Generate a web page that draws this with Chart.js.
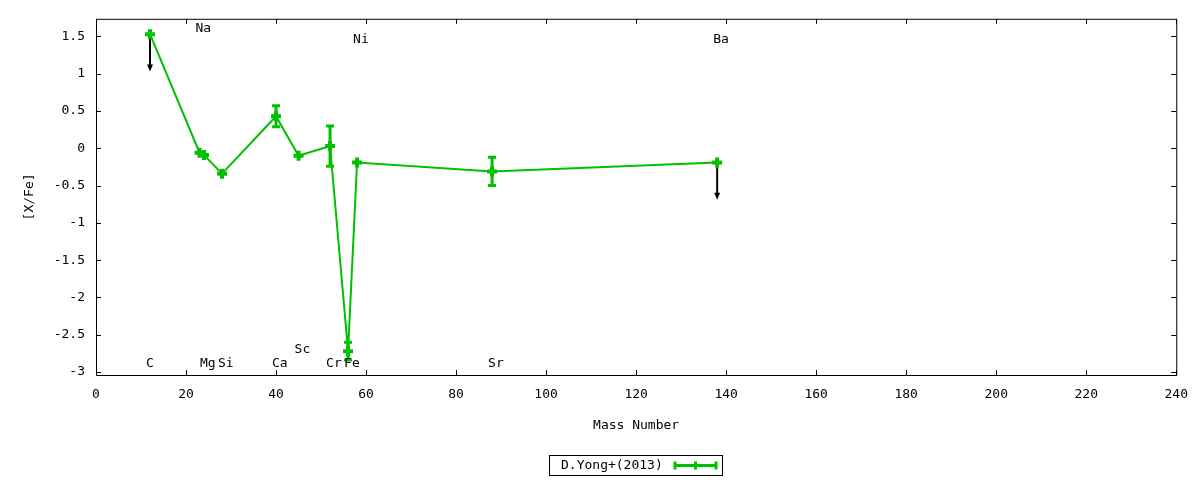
<!DOCTYPE html>
<html>
<head>
<meta charset="utf-8">
<script src="https://cdn.jsdelivr.net/npm/chart.js@4"></script>
<style>
  html, body { margin: 0; padding: 0; background: #fff; }
  #wrap { width: 1200px; height: 480px; }
</style>
</head>
<body>
<div id="wrap"><canvas id="abund" width="1200" height="480"></canvas></div>
<script>
// abundance pattern, D.Yong+(2013)
const elements = ["C", "Na", "Mg", "Si", "Ca", "Sc", "Cr", "Fe", "Ni", "Sr", "Ba"];
const massNumber = [12, 23, 24, 28, 40, 45, 52, 56, 58, 88, 138];
const xFe = [1.53, -0.06, -0.09, -0.34, 0.43, -0.10, 0.03, -2.72, -0.19, -0.31, -0.19];
const xFeErr = [0, 0, 0, 0, 0.14, 0, 0.27, 0.12, 0, 0.19, 0];
const upperLimit = [true, false, false, false, false, false, false, false, false, false, true];
// y level (in [X/Fe]) where each element name is written
const labelLevel = [-2.89, 1.6, -2.89, -2.89, -2.89, -2.7, -2.89, -2.89, 1.46, -2.89, 1.46];
const xTicks = [0, 20, 40, 60, 80, 100, 120, 140, 160, 180, 200, 220, 240];
const yTicks = [-3, -2.5, -2, -1.5, -1, -0.5, 0, 0.5, 1, 1.5];
const seriesName = "D.Yong+(2013)";

const green = "#00c000";
const font = "DejaVu Sans Mono";

const points = massNumber.map((m, i) => ({ x: m, y: xFe[i] }));

const extras = {
  id: "extras",
  afterDatasetsDraw(chart) {
    const ctx = chart.ctx;
    const xs = chart.scales.x, ys = chart.scales.y;
    const a = chart.chartArea;
    ctx.save();

    // error bars
    ctx.strokeStyle = green;
    ctx.lineWidth = 3;
    massNumber.forEach((m, i) => {
      if (!xFeErr[i]) return;
      const px = xs.getPixelForValue(m);
      const top = ys.getPixelForValue(xFe[i] + xFeErr[i]);
      const bot = ys.getPixelForValue(xFe[i] - xFeErr[i]);
      ctx.beginPath();
      ctx.moveTo(px, top); ctx.lineTo(px, bot);
      ctx.moveTo(px - 4, top); ctx.lineTo(px + 4, top);
      ctx.moveTo(px - 4, bot); ctx.lineTo(px + 4, bot);
      ctx.stroke();
    });

    // upper limits
    ctx.strokeStyle = "#000";
    ctx.fillStyle = "#000";
    ctx.lineWidth = 2;
    massNumber.forEach((m, i) => {
      if (!upperLimit[i]) return;
      const px = xs.getPixelForValue(m);
      const y0 = ys.getPixelForValue(xFe[i]) + 5;
      const y1 = ys.getPixelForValue(xFe[i] - 0.5);
      ctx.beginPath();
      ctx.moveTo(px, y0); ctx.lineTo(px, y1 - 4);
      ctx.stroke();
      ctx.beginPath();
      ctx.moveTo(px - 3, y1 - 7); ctx.lineTo(px + 3, y1 - 7); ctx.lineTo(px, y1);
      ctx.closePath();
      ctx.fill();
    });

    // element names
    ctx.fillStyle = "#000";
    ctx.font = "13px '" + font + "'";
    ctx.textAlign = "left";
    ctx.textBaseline = "middle";
    elements.forEach((el, i) => {
      ctx.fillText(el, xs.getPixelForValue(massNumber[i]) - 4, ys.getPixelForValue(labelLevel[i]));
    });

    // frame and inward ticks (mirrored)
    ctx.strokeStyle = "#000";
    ctx.lineWidth = 1;
    ctx.beginPath();
    ctx.rect(a.left + 0.5, a.top + 0.5, a.right - a.left, a.bottom - a.top);
    xTicks.forEach(v => {
      const px = Math.round(xs.getPixelForValue(v)) + 0.5;
      ctx.moveTo(px, a.bottom); ctx.lineTo(px, a.bottom - 5);
      ctx.moveTo(px, a.top); ctx.lineTo(px, a.top + 5);
    });
    yTicks.forEach(v => {
      const py = Math.round(ys.getPixelForValue(v)) + 0.5;
      ctx.moveTo(a.left, py); ctx.lineTo(a.left + 5, py);
      ctx.moveTo(a.right, py); ctx.lineTo(a.right - 5, py);
    });
    ctx.stroke();

    // key box
    const kx = 549.5, ky = 455.5, kw = 173, kh = 20;
    ctx.strokeRect(kx, ky, kw, kh);
    ctx.fillText(seriesName, 561, ky + kh / 2);
    const ly = ky + kh / 2, l0 = 675, l1 = 716;
    ctx.strokeStyle = green;
    ctx.lineWidth = 3;
    ctx.beginPath();
    ctx.moveTo(l0, ly); ctx.lineTo(l1, ly);
    ctx.moveTo(l0, ly - 4); ctx.lineTo(l0, ly + 4);
    ctx.moveTo(l1, ly - 4); ctx.lineTo(l1, ly + 4);
    ctx.moveTo((l0 + l1) / 2, ly - 4); ctx.lineTo((l0 + l1) / 2, ly + 4);
    ctx.stroke();

    ctx.restore();
  }
};

new Chart(document.getElementById("abund"), {
  type: "scatter",
  data: {
    datasets: [{
      label: seriesName,
      data: points,
      showLine: true,
      borderColor: green,
      backgroundColor: green,
      borderWidth: 2,
      tension: 0,
      pointStyle: "cross",
      pointRadius: 5,
      pointBorderWidth: 4,
      pointHoverRadius: 5
    }]
  },
  options: {
    responsive: false,
    animation: false,
    devicePixelRatio: 1,
    layout: { padding: { top: 17, right: 23, bottom: 45, left: 0 } },
    plugins: { legend: { display: false }, tooltip: { enabled: false } },
    scales: {
      x: {
        type: "linear",
        min: 0, max: 240,
        grid: { display: false, drawTicks: false },
        border: { display: false },
        afterBuildTicks: s => { s.ticks = xTicks.map(v => ({ value: v })); },
        afterFit: s => { s.height = 60; },
        ticks: { autoSkip: false, maxRotation: 0, padding: 12, color: "#000", font: { family: font, size: 13 }, callback: v => String(v) },
        title: { display: true, text: "Mass Number", color: "#000", font: { family: font, size: 13 }, padding: { top: 0, bottom: 2 } }
      },
      y: {
        type: "linear",
        min: -3.04, max: 1.736,
        grid: { display: false, drawTicks: false },
        border: { display: false },
        afterBuildTicks: s => { s.ticks = yTicks.map(v => ({ value: v })); },
        afterFit: s => { s.width = 96; },
        ticks: { autoSkip: false, padding: 11, color: "#000", font: { family: font, size: 13 }, callback: v => String(v) },
        title: { display: true, text: "[X/Fe]", color: "#000", font: { family: font, size: 13 }, padding: { top: 22, bottom: 0 } }
      }
    }
  },
  plugins: [extras]
});
</script>
</body>
</html>
